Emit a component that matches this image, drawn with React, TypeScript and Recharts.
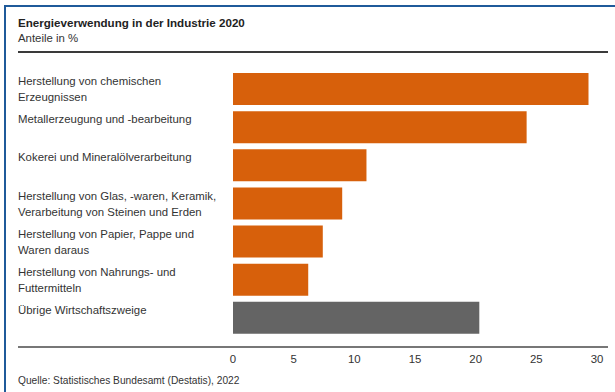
import { BarChart, Bar, XAxis, YAxis, Cell } from 'recharts'

const categories = [
  'Herstellung von chemischen\nErzeugnissen',
  'Metallerzeugung und -bearbeitung',
  'Kokerei und Mineralölverarbeitung',
  'Herstellung von Glas, -waren, Keramik,\nVerarbeitung von Steinen und Erden',
  'Herstellung von Papier, Pappe und\nWaren daraus',
  'Herstellung von Nahrungs- und\nFuttermitteln',
  'Übrige Wirtschaftszweige',
]
const shares = [29.3, 24.2, 11.0, 9.0, 7.4, 6.2, 20.3]
const xTicks = [0, 5, 10, 15, 20, 25, 30]

const ORANGE = '#d7600b'
const GREY = '#646464'
const FONT = '"Liberation Sans", Arial, Helvetica, sans-serif'
const BAR_SIZE = 32

const data = categories.map((name, i) => ({ name, value: shares[i] }))

function CategoryTick(props: any) {
  const { y, payload } = props
  const lines = String(payload.value).split('\n')
  const top = y - BAR_SIZE / 2
  return (
    <text x={18} y={top + 12} fill="#333" fontSize={11.4} fontFamily={FONT} textAnchor="start">
      {lines.map((line, i) => (
        <tspan key={i} x={18} dy={i === 0 ? 0 : 16}>
          {line}
        </tspan>
      ))}
    </text>
  )
}

export default function App() {
  return (
    <div
      style={{
        position: 'absolute',
        left: 0,
        top: 0,
        width: 615,
        height: 392,
        background: '#fff',
        fontFamily: FONT,
        color: '#222',
      }}
    >
      {/* blue frame, top and left */}
      <div style={{ position: 'absolute', left: 4, top: 5, right: 0, height: 2, background: '#1f5a9a' }} />
      <div style={{ position: 'absolute', left: 4, top: 5, bottom: 0, width: 2, background: '#1f5a9a' }} />

      <div style={{ position: 'absolute', left: 18, top: 16, fontSize: 11.6, fontWeight: 'bold' }}>
        Energieverwendung in der Industrie 2020
      </div>
      <div style={{ position: 'absolute', left: 18, top: 32, fontSize: 11.4, color: '#333' }}>Anteile in %</div>
      <div style={{ position: 'absolute', left: 18, top: 51, width: 590, height: 2, background: '#3a3a3a' }} />

      <div style={{ position: 'absolute', left: 0, top: 0 }}>
        <BarChart
          width={615}
          height={392}
          data={data}
          layout="vertical"
          margin={{ top: 70, right: 18, bottom: 25, left: 0 }}
          barSize={BAR_SIZE}
        >
          <XAxis
            type="number"
            domain={[0, 30]}
            ticks={xTicks}
            axisLine={false}
            tickLine={false}
            tickSize={0}
            tickMargin={18}
            height={30}
            tick={{ fill: '#333', fontSize: 11.4, fontFamily: FONT }}
          />
          <YAxis
            type="category"
            dataKey="name"
            width={233}
            axisLine={false}
            tickLine={false}
            interval={0}
            tick={<CategoryTick />}
          />
          <Bar dataKey="value" isAnimationActive={false}>
            {data.map((d, i) => (
              <Cell key={i} fill={i === data.length - 1 ? GREY : ORANGE} />
            ))}
          </Bar>
        </BarChart>
      </div>

      <div style={{ position: 'absolute', left: 18, top: 346, width: 590, height: 2, background: '#777' }} />
      <div style={{ position: 'absolute', left: 18, top: 375, fontSize: 10.2, color: '#333' }}>
        Quelle: Statistisches Bundesamt (Destatis), 2022
      </div>
    </div>
  )
}
